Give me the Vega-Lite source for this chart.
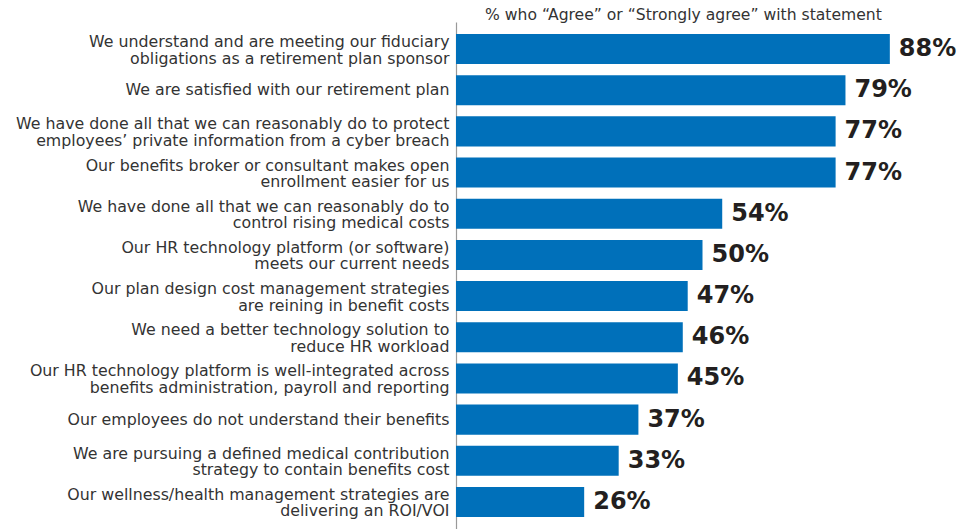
{
  "$schema": "https://vega.github.io/schema/vega-lite/v6.json",
  "width": 493,
  "height": 507,
  "autosize": {"type": "none"},
  "padding": {"left": 456, "top": 22, "right": 11, "bottom": 0},
  "background": "white",
  "title": {
    "text": "% who “Agree” or “Strongly agree” with statement",
    "anchor": "start",
    "frame": "group",
    "dx": 29,
    "offset": -2,
    "font": "DejaVu Sans",
    "fontSize": 15.6,
    "fontWeight": "normal",
    "color": "#333333"
  },
  "data": {
    "values": [
      {"statement": "We understand and are meeting our fiduciary|obligations as a retirement plan sponsor", "pct": 88, "label": "88%"},
      {"statement": "We are satisfied with our retirement plan", "pct": 79, "label": "79%"},
      {"statement": "We have done all that we can reasonably do to protect|employees’ private information from a cyber breach", "pct": 77, "label": "77%"},
      {"statement": "Our benefits broker or consultant makes open|enrollment easier for us", "pct": 77, "label": "77%"},
      {"statement": "We have done all that we can reasonably do to|control rising medical costs", "pct": 54, "label": "54%"},
      {"statement": "Our HR technology platform  (or software)|meets our current needs", "pct": 50, "label": "50%"},
      {"statement": "Our plan design cost management strategies|are reining in benefit costs", "pct": 47, "label": "47%"},
      {"statement": "We need a better technology solution to|reduce HR workload", "pct": 46, "label": "46%"},
      {"statement": "Our HR technology platform is well-integrated across|benefits administration, payroll and reporting", "pct": 45, "label": "45%"},
      {"statement": "Our employees do not understand their benefits", "pct": 37, "label": "37%"},
      {"statement": "We are pursuing a defined medical contribution|strategy to contain benefits cost", "pct": 33, "label": "33%"},
      {"statement": "Our wellness/health management strategies are|delivering  an ROI/VOI", "pct": 26, "label": "26%"}
    ]
  },
  "encoding": {
    "y": {
      "field": "statement",
      "type": "nominal",
      "sort": null,
      "scale": {"paddingInner": 0.27, "paddingOuter": 0.292},
      "axis": {
        "title": null,
        "ticks": false,
        "labelExpr": "split(datum.value, '|')",
        "labelFont": "DejaVu Sans",
        "labelFontSize": 15.8,
        "labelColor": "#333333",
        "labelLineHeight": 16.5,
        "labelPadding": 7,
        "labelLimit": 470,
        "labelOffset": {"condition": {"test": "indexof(datum.value, '|') >= 0", "value": -7}, "value": 0},
        "domainColor": "#999999",
        "domainWidth": 1.2
      }
    },
    "x": {
      "field": "pct",
      "type": "quantitative",
      "scale": {"domain": [0, 100], "nice": false},
      "axis": null
    }
  },
  "layer": [
    {"mark": {"type": "bar", "color": "#0070BA"}},
    {
      "mark": {
        "type": "text",
        "align": "left",
        "baseline": "middle",
        "dx": 9,
        "font": "DejaVu Sans",
        "fontSize": 24,
        "fontWeight": "bold",
        "color": "#231F20"
      },
      "encoding": {
        "text": {"field": "label", "type": "nominal"}
      }
    }
  ],
  "config": {"view": {"stroke": null}}
}
